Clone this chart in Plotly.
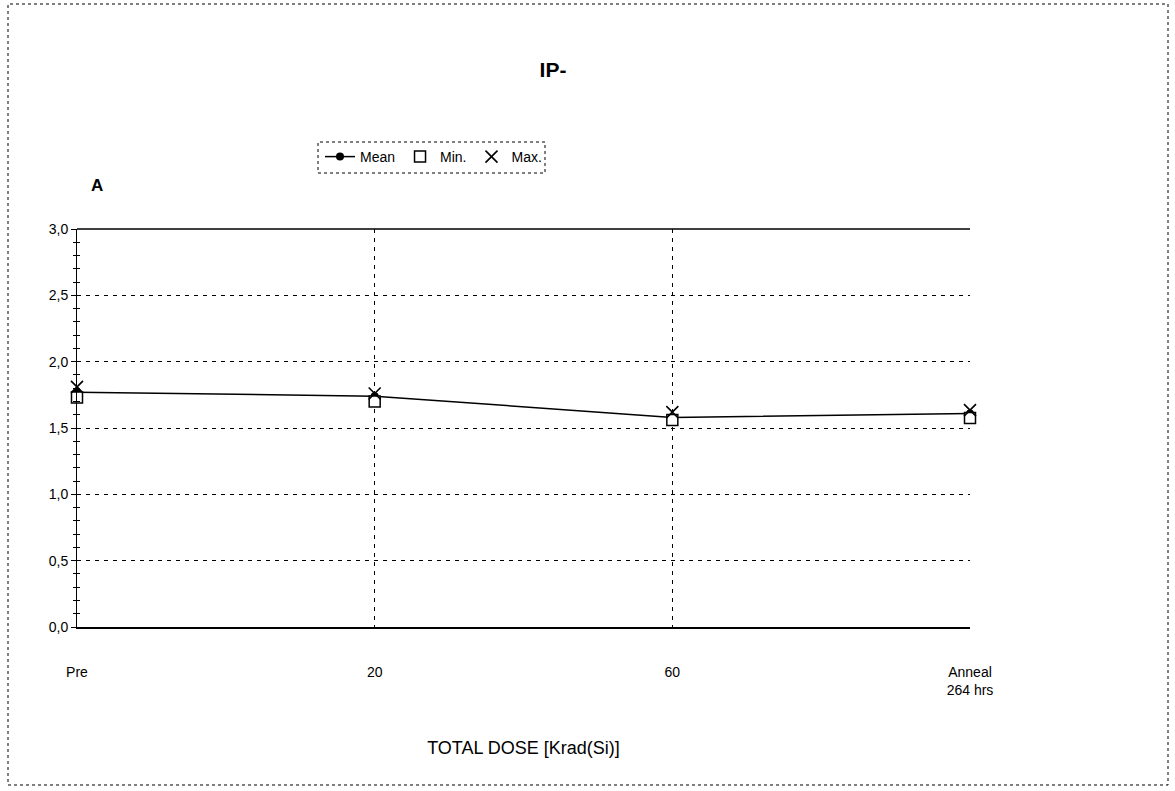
import plotly.graph_objects as go

categories = ["Pre", "20", "60", "Anneal<br>264 hrs"]
mean_vals = [1.77, 1.74, 1.58, 1.61]
min_vals = [1.73, 1.70, 1.56, 1.575]
max_vals = [1.81, 1.76, 1.62, 1.635]
y_ticks = [0.0, 0.5, 1.0, 1.5, 2.0, 2.5, 3.0]

xpos = list(range(len(categories)))
FONT = "Liberation Sans, Arial, sans-serif"

fig = go.Figure()
fig.add_trace(go.Scatter(x=xpos, y=mean_vals, name="Mean", mode="lines+markers",
                         line=dict(color="black", width=1.5), cliponaxis=False,
                         marker=dict(symbol="circle", size=8, color="black")))
fig.add_trace(go.Scatter(x=xpos, y=min_vals, name="Min.", mode="markers", cliponaxis=False,
                         marker=dict(symbol="square", size=11, color="white",
                                     line=dict(width=1.5, color="black"))))
fig.add_trace(go.Scatter(x=xpos, y=max_vals, name="Max.", mode="markers", cliponaxis=False,
                         marker=dict(symbol="x-thin", size=12, color="black",
                                     line=dict(width=1.6, color="black"))))
# invisible trace for inside ticks on y axis
fig.add_trace(go.Scatter(x=[0], y=[0], yaxis="y2", mode="markers",
                         marker=dict(opacity=0), showlegend=False, hoverinfo="skip"))

fig.update_layout(
    width=1175, height=791,
    margin=dict(l=77, r=205, t=229, b=164),
    paper_bgcolor="white", plot_bgcolor="white",
    separators=",.",
    font=dict(family=FONT, size=14, color="black"),
    title=dict(text="<b>IP-</b>", x=553/1175, xanchor="center", y=1-70/791, yanchor="middle",
               font=dict(size=21, family=FONT)),
    showlegend=True,
    legend=dict(orientation="h", x=(320-77)/893, xanchor="left",
                y=1+(229-157)/398, yanchor="middle",
                bgcolor="rgba(0,0,0,0)", font=dict(size=14), itemwidth=30,
                tracegroupgap=0),
    xaxis=dict(range=[0, 3], tickmode="array", tickvals=xpos, ticktext=categories,
               showgrid=True, gridcolor="black", griddash="4px,5px", gridwidth=1,
               showline=True, linecolor="black", linewidth=1.5, mirror=False,
               ticks="", ticklabelstandoff=31, zeroline=False, tickfont=dict(size=14),
               title=dict(text="TOTAL DOSE [Krad(Si)]", font=dict(size=18), standoff=45)),
    yaxis=dict(range=[0, 3], tickmode="array", tickvals=y_ticks,
               tickformat=".1f", showgrid=True, gridcolor="black", griddash="4px,5px",
               gridwidth=1, showline=True, linecolor="black", linewidth=1,
               ticks="outside", ticklen=5, tickcolor="black",
               minor=dict(dtick=0.1, ticks="outside", ticklen=3, tickcolor="black", showgrid=False),
               zeroline=False, tickfont=dict(size=14)),
    yaxis2=dict(range=[0, 3], overlaying="y", side="left", showgrid=False,
                showticklabels=False, ticks="inside", ticklen=4, tickcolor="black",
                tickvals=y_ticks, minor=dict(dtick=0.1, ticks="inside", ticklen=3, tickcolor="black"),
                showline=False, zeroline=False),
)

# top border of plot (solid at 3.0)
fig.add_shape(type="line", xref="paper", yref="paper", x0=0, x1=1, y0=1, y1=1,
              line=dict(color="black", width=1.5))
# legend dashed frame
fig.add_shape(type="rect", xref="paper", yref="paper",
              x0=(318-77)/893, x1=(545-77)/893,
              y0=1+(229-173)/398, y1=1+(229-142)/398,
              line=dict(color="black", width=1, dash="dot"))
# outer frame
fig.add_shape(type="rect", xref="paper", yref="paper",
              x0=(8-77)/893, x1=(1168-77)/893,
              y0=-(785-627)/398, y1=1+(229-4)/398,
              line=dict(color="black", width=1, dash="dot"))
fig.add_annotation(text="<b>A</b>", xref="paper", yref="paper", x=(97-77)/893, y=1+(229-186)/398,
                   showarrow=False, xanchor="center", yanchor="middle",
                   font=dict(size=17, family=FONT))

fig.write_html("out.html")
